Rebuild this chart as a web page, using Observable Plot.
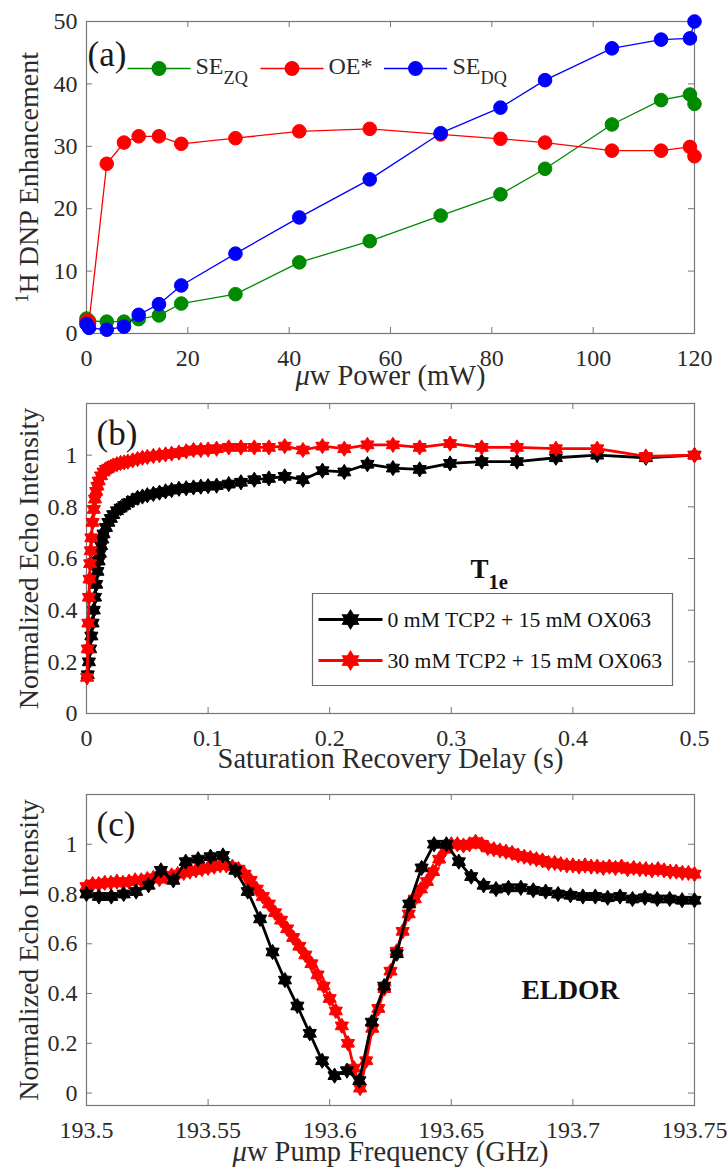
<!DOCTYPE html>
<html><head><meta charset="utf-8">
<script src="https://cdn.jsdelivr.net/npm/d3@7"></script>
<script src="https://cdn.jsdelivr.net/npm/@observablehq/plot@0.6"></script>
<style>html,body{margin:0;padding:0;background:#fff}#chart svg{display:block}</style>
</head><body><div id="chart"></div><script>
// ---------- Panel (a): 1H DNP enhancement vs microwave power ----------
const powerMW = [0, 0.5, 4, 7.4, 10.3, 14.3, 18.7, 29.4, 42, 55.9, 69.9, 81.7, 90.5, 103.7, 113.4, 119.1, 120];
const seZQ   = [2.4, 2.0, 1.9, 1.9, 2.3, 2.9, 4.8, 6.3, 11.4, 14.8, 18.9, 22.3, 26.4, 33.5, 37.4, 38.3, 36.8];
const oeStar = [2.0, 1.8, 27.2, 30.6, 31.6, 31.6, 30.4, 31.3, 32.4, 32.8, 31.9, 31.2, 30.6, 29.3, 29.3, 29.9, 28.4];
const seDQ   = [1.5, 0.9, 0.6, 1.1, 3.0, 4.7, 7.7, 12.8, 18.6, 24.7, 32.1, 36.2, 40.6, 45.7, 47.1, 47.3, 50.0];
const aSeriesNames = ["SE_{ZQ}", "OE*", "SE_{DQ}"];
const aXTicks = [0, 20, 40, 60, 80, 100, 120];
const aXTickLabels = ["0", "20", "40", "60", "80", "100", "120"];
const aYTicks = [0, 10, 20, 30, 40, 50];
const aYTickLabels = ["0", "10", "20", "30", "40", "50"];

// ---------- Panel (b): T1e saturation recovery ----------
const delay0 = [0.001,0.002,0.003,0.004,0.005,0.006,0.007,0.008,0.009,0.010,0.011,0.012,0.013,0.014,0.016,0.018,0.020,0.022,0.025,0.028,0.031,0.034,0.038,0.042,0.046,0.050,0.055,0.060,0.065,0.070,0.076,0.082,0.088,0.094,0.100,0.107,0.117,0.127,0.138,0.150,0.163,0.178,0.194,0.212,0.231,0.252,0.274,0.299,0.325,0.354,0.386,0.420,0.460,0.500];
const echo0  = [0.15,0.20,0.25,0.30,0.35,0.40,0.45,0.50,0.55,0.59,0.62,0.65,0.675,0.695,0.72,0.74,0.755,0.77,0.785,0.795,0.805,0.815,0.825,0.835,0.84,0.845,0.85,0.855,0.86,0.865,0.87,0.872,0.875,0.878,0.88,0.882,0.888,0.895,0.905,0.91,0.918,0.905,0.94,0.935,0.965,0.95,0.945,0.968,0.975,0.975,0.99,1.0,0.99,1.0];
const delay30 = [0.0005,0.001,0.0015,0.002,0.0025,0.003,0.0035,0.004,0.005,0.006,0.007,0.008,0.009,0.010,0.012,0.014,0.016,0.018,0.020,0.022,0.025,0.028,0.031,0.034,0.038,0.042,0.046,0.050,0.055,0.060,0.065,0.070,0.076,0.082,0.088,0.094,0.100,0.107,0.117,0.127,0.138,0.150,0.163,0.178,0.194,0.212,0.231,0.252,0.274,0.299,0.325,0.354,0.386,0.420,0.460,0.500];
const echo30  = [0.14,0.25,0.35,0.45,0.52,0.58,0.63,0.68,0.74,0.79,0.83,0.86,0.88,0.90,0.92,0.935,0.945,0.95,0.955,0.96,0.965,0.97,0.972,0.975,0.98,0.985,0.99,0.993,0.997,1.0,1.003,1.006,1.01,1.015,1.02,1.02,1.022,1.025,1.03,1.03,1.03,1.03,1.035,1.02,1.035,1.025,1.04,1.04,1.03,1.045,1.03,1.03,1.025,1.025,0.995,1.0];
const bSeriesNames = ["0 mM TCP2 + 15 mM OX063", "30 mM TCP2 + 15 mM OX063"];
const bXTicks = [0, 0.1, 0.2, 0.3, 0.4, 0.5];
const bXTickLabels = ["0", "0.1", "0.2", "0.3", "0.4", "0.5"];
const bYTicks = [0, 0.2, 0.4, 0.6, 0.8, 1];
const bYTickLabels = ["0", "0.2", "0.4", "0.6", "0.8", "1"];

// ---------- Panel (c): ELDOR ----------
const freqBlack = [193.5000,193.5051,193.5102,193.5153,193.5204,193.5255,193.5306,193.5357,193.5408,193.5459,193.5510,193.5561,193.5612,193.5663,193.5714,193.5765,193.5816,193.5867,193.5918,193.5969,193.6020,193.6071,193.6122,193.6173,193.6224,193.6276,193.6327,193.6378,193.6429,193.6480,193.6531,193.6582,193.6633,193.6684,193.6735,193.6786,193.6837,193.6888,193.6939,193.6990,193.7041,193.7092,193.7143,193.7194,193.7245,193.7296,193.7347,193.7398,193.7449,193.7500];
const echoBlack = [0.80,0.79,0.79,0.80,0.81,0.835,0.895,0.855,0.93,0.94,0.95,0.955,0.895,0.81,0.70,0.567,0.454,0.35,0.24,0.13,0.07,0.09,0.05,0.285,0.43,0.56,0.76,0.905,1.0,1.0,0.93,0.87,0.835,0.82,0.825,0.825,0.815,0.81,0.80,0.795,0.79,0.79,0.785,0.79,0.78,0.785,0.78,0.78,0.775,0.775];
const freqRed = [193.5000,193.5025,193.5050,193.5075,193.5100,193.5125,193.5150,193.5175,193.5200,193.5225,193.5250,193.5275,193.5300,193.5325,193.5350,193.5375,193.5400,193.5425,193.5450,193.5475,193.5500,193.5525,193.5550,193.5575,193.5600,193.5625,193.5650,193.5675,193.5700,193.5725,193.5750,193.5775,193.5800,193.5825,193.5850,193.5875,193.5900,193.5925,193.5950,193.5975,193.6000,193.6025,193.6050,193.6075,193.6100,193.6125,193.6150,193.6175,193.6200,193.6225,193.6250,193.6275,193.6300,193.6325,193.6350,193.6375,193.6400,193.6425,193.6450,193.6475,193.6500,193.6525,193.6550,193.6575,193.6600,193.6625,193.6650,193.6675,193.6700,193.6725,193.6750,193.6775,193.6800,193.6825,193.6850,193.6875,193.6900,193.6925,193.6950,193.6975,193.7000,193.7025,193.7050,193.7075,193.7100,193.7125,193.7150,193.7175,193.7200,193.7225,193.7250,193.7275,193.7300,193.7325,193.7350,193.7375,193.7400,193.7425,193.7450,193.7475,193.7500];
const echoRed = [0.83,0.84,0.84,0.845,0.845,0.85,0.845,0.85,0.855,0.855,
  0.86,0.865,0.86,0.87,0.875,0.88,0.885,0.89,0.895,0.90,
  0.905,0.91,0.915,0.915,0.91,0.90,0.88,0.855,0.82,0.79,
  0.76,0.725,0.695,0.66,0.625,0.59,0.555,0.52,0.475,0.43,
  0.38,0.33,0.27,0.20,0.10,0.02,0.13,0.26,0.34,0.42,
  0.49,0.57,0.65,0.72,0.78,0.82,0.85,0.89,0.94,0.98,
  1.0,1.0,0.995,1.0,1.01,1.0,0.985,0.98,0.975,0.97,
  0.965,0.955,0.95,0.945,0.94,0.935,0.925,0.925,0.92,0.915,
  0.915,0.91,0.915,0.91,0.91,0.905,0.91,0.905,0.91,0.90,
  0.905,0.90,0.90,0.895,0.90,0.895,0.89,0.89,0.885,0.885,
  0.88];
const cXTicks = [193.5, 193.55, 193.6, 193.65, 193.7, 193.75];
const cXTickLabels = ["193.5", "193.55", "193.6", "193.65", "193.7", "193.75"];
const cYTicks = [0, 0.2, 0.4, 0.6, 0.8, 1];
const cYTickLabels = ["0", "0.2", "0.4", "0.6", "0.8", "1"];

// ---------- styling ----------
const GREEN = "#008a00", RED = "#ff0000", BLUE = "#0000ff", BLACK = "#000000";
const AX = "#767676", TXT = "#2b2b2b";
const FONT = "Liberation Serif";
const W = 728, ML = 86, MR = 34, FW = W - ML - MR;

const zip = (xs, ys) => xs.map((x, i) => ({x, y: ys[i]}));

function hexPath(ctx, R) {
  const r = R * 0.6;
  for (let i = 0; i < 12; i++) {
    const a = Math.PI / 2 + i * Math.PI / 6;
    const rad = i % 2 === 0 ? R : r;
    const px = rad * Math.cos(a), py = -rad * Math.sin(a);
    if (i === 0) ctx.moveTo(px, py); else ctx.lineTo(px, py);
  }
  ctx.closePath();
}
const hexagram = {draw(ctx, size) { hexPath(ctx, Math.sqrt(size / Math.PI)); }};
const glyph = (shape, half, R) => ({draw(ctx) {
  ctx.moveTo(-half, 0); ctx.lineTo(half, 0);
  if (shape === "circle") { ctx.moveTo(R, 0); ctx.arc(0, 0, R, 0, 2 * Math.PI); }
  else hexPath(ctx, R);
}});
const boxSym = (w, h) => ({draw(ctx) { ctx.rect(-w / 2, -h / 2, w, h); }});

const T = (data, opts) => Plot.text(data, {fontFamily: FONT, ...opts});

function axes(FH, xt, xl, yt, yl, xTitle, yTitle, titleDy) {
  return [
    Plot.tickX(xt, {x: d => d, insetTop: FH - 6, stroke: AX, strokeWidth: 1}),
    Plot.tickX(xt, {x: d => d, insetBottom: FH - 6, stroke: AX, strokeWidth: 1}),
    Plot.tickY(yt, {y: d => d, insetRight: FW - 6, stroke: AX, strokeWidth: 1}),
    Plot.tickY(yt, {y: d => d, insetLeft: FW - 6, stroke: AX, strokeWidth: 1}),
    Plot.frame({stroke: AX, strokeWidth: 1.2}),
    T(xt, {x: d => d, text: (d, i) => xl[i], frameAnchor: "bottom", dy: 25, textAnchor: "middle", lineAnchor: "middle", fontSize: 24, fill: TXT}),
    T(yt, {y: d => d, text: (d, i) => yl[i], frameAnchor: "left", dx: -9, textAnchor: "end", lineAnchor: "middle", fontSize: 24, fill: TXT}),
    T([xTitle], {frameAnchor: "bottom", dy: titleDy, textAnchor: "middle", lineAnchor: "middle", fontSize: 28.5, fill: TXT}),
    T([yTitle], {frameAnchor: "left", dx: -57, rotate: -90, textAnchor: "middle", lineAnchor: "middle", fontSize: 28, fill: TXT})
  ];
}
const panelLabel = (s, dx, dy) => T([s], {frameAnchor: "top-left", dx, dy, textAnchor: "start", lineAnchor: "bottom", fontSize: 35, fill: "#1a1a1a"});

// ---------- (a) ----------
const aH = 390, aMT = 21, aMB = 57, aFH = aH - aMT - aMB;
const aSeries = [[seZQ, GREEN], [oeStar, RED], [seDQ, BLUE]];
const aLegendX = [72.5, 205.5, 329], aLegendTextX = [109, 242, 366];
const plotA = Plot.plot({
  width: W, height: aH, marginLeft: ML, marginRight: MR, marginTop: aMT, marginBottom: aMB,
  x: {domain: [0, 120], axis: null}, y: {domain: [0, 50], axis: null},
  style: {fontFamily: FONT, background: "white", overflow: "visible"},
  marks: [
    ...axes(aFH, aXTicks, aXTickLabels, aYTicks, aYTickLabels, "~{μ}w Power (mW)", "^{1}H DNP Enhancement", 42),
    ...aSeries.flatMap(([vals, c]) => [
      Plot.line(zip(powerMW, vals), {x: "x", y: "y", stroke: c, strokeWidth: 1.3}),
      Plot.dot(zip(powerMW, vals), {x: "x", y: "y", r: 6.8, fill: c, stroke: c, strokeWidth: 1})
    ]),
    panelLabel("(a)", 1, 44),
    ...aSeries.map(([vals, c], i) => Plot.dot([0], {frameAnchor: "top-left", dx: aLegendX[i], dy: 47, symbol: glyph("circle", 31.5, 6.8), r: 1, fill: c, stroke: c, strokeWidth: 1.3})),
    ...aSeriesNames.map((n, i) => T([n], {frameAnchor: "top-left", dx: aLegendTextX[i], dy: 52, textAnchor: "start", lineAnchor: "bottom", fontSize: 24, fill: TXT}))
  ]
});

// ---------- (b) ----------
const bH = 390, bMT = 13, bMB = 67, bFH = bH - bMT - bMB;
const bSeries = [[delay0, echo0, BLACK], [delay30, echo30, RED]];
const plotB = Plot.plot({
  width: W, height: bH, marginLeft: ML, marginRight: MR, marginTop: bMT, marginBottom: bMB,
  x: {domain: [0, 0.5], axis: null}, y: {domain: [0, 1.2], axis: null},
  style: {fontFamily: FONT, background: "white", overflow: "visible"},
  marks: [
    ...axes(bFH, bXTicks, bXTickLabels, bYTicks, bYTickLabels, "Saturation Recovery Delay (s)", "Normalized Echo Intensity", 45),
    ...bSeries.flatMap(([xs, ys, c]) => [
      Plot.line(zip(xs, ys), {x: "x", y: "y", stroke: c, strokeWidth: 2.8}),
      Plot.dot(zip(xs, ys), {x: "x", y: "y", symbol: hexagram, r: 7.6, fill: c, stroke: c, strokeWidth: 1})
    ]),
    panelLabel("(b)", 10, 41),
    T(["T_{1e}"], {frameAnchor: "top-left", dx: 384, dy: 174, textAnchor: "start", lineAnchor: "bottom", fontSize: 27, fontWeight: "bold", fill: "#111"}),
    Plot.dot([0], {frameAnchor: "top-left", dx: 406, dy: 236, symbol: boxSym(360, 92), r: 1, fill: "white", stroke: "#6a6a6a", strokeWidth: 1.2}),
    ...bSeries.map(([xs, ys, c], i) => Plot.dot([0], {frameAnchor: "top-left", dx: 264, dy: 216 + 41 * i, symbol: glyph("hex", 32, 7.6), r: 1, fill: c, stroke: c, strokeWidth: 3})),
    ...bSeriesNames.map((n, i) => T([n], {frameAnchor: "top-left", dx: 301, dy: 223 + 41 * i, textAnchor: "start", lineAnchor: "bottom", fontSize: 21.7, fill: "#111"}))
  ]
});

// ---------- (c) ----------
const cH = 387, cMT = 14, cMB = 62, cFH = cH - cMT - cMB;
const cSeries = [[freqRed, echoRed, RED], [freqBlack, echoBlack, BLACK]];
const plotC = Plot.plot({
  width: W, height: cH, marginLeft: ML, marginRight: MR, marginTop: cMT, marginBottom: cMB,
  x: {domain: [193.5, 193.75], axis: null}, y: {domain: [-0.05, 1.2], axis: null},
  style: {fontFamily: FONT, background: "white", overflow: "visible"},
  marks: [
    ...axes(cFH, cXTicks, cXTickLabels, cYTicks, cYTickLabels, "~{μ}w Pump Frequency (GHz)", "Normalized Echo Intensity", 46),
    ...cSeries.flatMap(([xs, ys, c]) => [
      Plot.line(zip(xs, ys), {x: "x", y: "y", stroke: c, strokeWidth: 2.8}),
      Plot.dot(zip(xs, ys), {x: "x", y: "y", symbol: hexagram, r: 7.6, fill: c, stroke: c, strokeWidth: 1})
    ]),
    panelLabel("(c)", 10, 41),
    T(["ELDOR"], {frameAnchor: "top-left", dx: 435, dy: 204, textAnchor: "start", lineAnchor: "bottom", fontSize: 27.5, fontWeight: "bold", fill: "#111"})
  ]
});

const root = document.getElementById("chart");
root.append(plotA, plotB, plotC);

// rich text: _{sub}, ^{sup}, ~{italic}
function richText(el) {
  el.querySelectorAll("text").forEach(t => {
    const s = t.textContent;
    if (!/[_^~]\{/.test(s)) return;
    const fs = parseFloat(getComputedStyle(t).fontSize) || 24;
    while (t.firstChild) t.removeChild(t.firstChild);
    let shift = 0, last = 0, m;
    const re = /([_^~])\{([^}]*)\}/g;
    const add = (txt, kind) => {
      if (!txt) return;
      const ts = document.createElementNS("http://www.w3.org/2000/svg", "tspan");
      let target = 0;
      if (kind === "_") { target = fs * 0.42; ts.setAttribute("font-size", fs * 0.76); }
      else if (kind === "^") { target = -fs * 0.38; ts.setAttribute("font-size", fs * 0.68); }
      else if (kind === "~") ts.setAttribute("font-style", "italic");
      const d = target - shift;
      if (d) ts.setAttribute("dy", d);
      shift = target;
      ts.textContent = txt;
      t.appendChild(ts);
    };
    while ((m = re.exec(s))) { add(s.slice(last, m.index), ""); add(m[2], m[1]); last = re.lastIndex; }
    add(s.slice(last), "");
  });
}
richText(root);
</script></body></html>
